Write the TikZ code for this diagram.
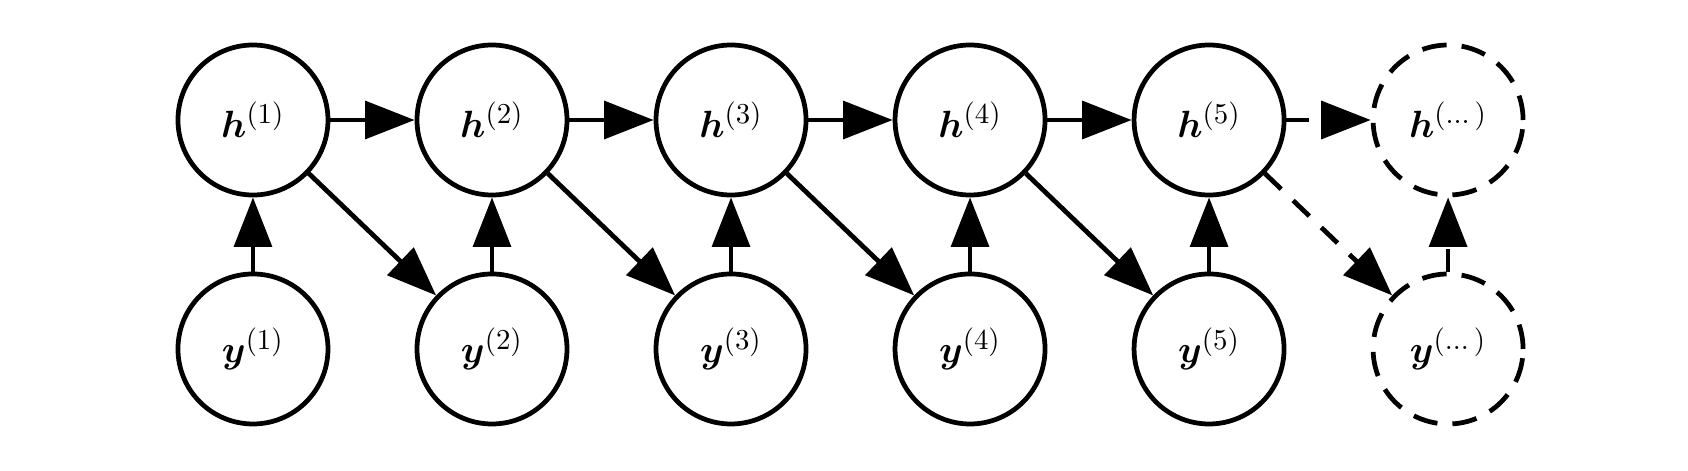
\documentclass[tikz,border=0pt]{standalone}
\usepackage{amsmath}
\usepackage{bm}
\usetikzlibrary{positioning,arrows.meta}

\tikzset{
  var/.style={circle, draw, line width=1.8pt, minimum size=2cm, inner sep=0pt,
    font=\fontsize{15}{18}\selectfont},
  ghostvar/.style={var, dash pattern=on 0.33cm off 0.2cm},
  link/.style={line width=1.8pt, -{Triangle[length=0.66cm,width=0.5cm]}},
  ghostlink/.style={link, dash pattern=on 0.3cm off 0.22cm},
}

\begin{document}
\begin{tikzpicture}[node distance=3.187cm and 3.187cm, on grid]
    \useasboundingbox (0,0) rectangle (22.507,6.267);
    \node[var] (h1) at (3.373,4.667) {$\bm{h}^{(1)}$};
    \node[var, right=of h1] (h2) {$\bm{h}^{(2)}$};
    \node[var, right=of h2] (h3) {$\bm{h}^{(3)}$};
    \node[var, right=of h3] (h4) {$\bm{h}^{(4)}$};
    \node[var, right=of h4] (h5) {$\bm{h}^{(5)}$};
    \node[ghostvar, right=of h5] (h6) {$\bm{h}^{(\dots)}$};
    \node[var, below=3.053cm of h1] (y1) {$\bm{y}^{(1)}$};
    \node[var, right=of y1] (y2) {$\bm{y}^{(2)}$};
    \node[var, right=of y2] (y3) {$\bm{y}^{(3)}$};
    \node[var, right=of y3] (y4) {$\bm{y}^{(4)}$};
    \node[var, right=of y4] (y5) {$\bm{y}^{(5)}$};
    \node[ghostvar, right=of y5] (y6) {$\bm{y}^{(\dots)}$};

    \draw[link] (h1) -- (h2);
    \draw[link] (h2) -- (h3);
    \draw[link] (h3) -- (h4);
    \draw[link] (h4) -- (h5);
    \draw[ghostlink] (h5) -- (h6);

    \draw[link] (y1) -- (h1);
    \draw[link] (y2) -- (h2);
    \draw[link] (y3) -- (h3);
    \draw[link] (y4) -- (h4);
    \draw[link] (y5) -- (h5);
    \draw[ghostlink] (y6) -- (h6);

    \draw[link] (h1) -- (y2);
    \draw[link] (h2) -- (y3);
    \draw[link] (h3) -- (y4);
    \draw[link] (h4) -- (y5);
    \draw[ghostlink] (h5) -- (y6);
  \end{tikzpicture}
\end{document}
